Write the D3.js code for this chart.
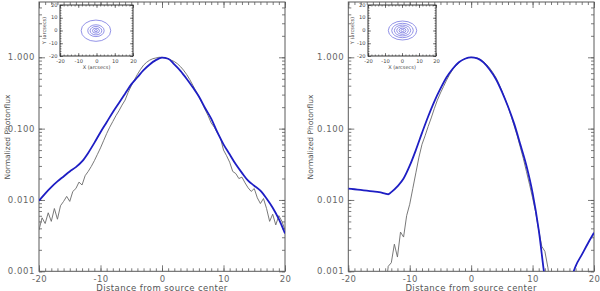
<!DOCTYPE html>
<meta charset="utf-8">
<style>
    body { margin: 0; background: #fff; }
    svg { display: block; font-family: "DejaVu Sans", sans-serif; }
    .lbl { fill: #555; }
</style>
<script src="https://d3js.org/d3.v7.min.js"></script>
<div id="chart"></div>
<script>

    // x positions of the measured (gray) profiles, every half arcsec
    var grayX = d3.range(-20, 20.01, 0.5);

    // left panel, measured profile (log10 of normalized flux)
    var leftDataLog10 = [
        -2.42, -2.25, -2.33, -2.18, -2.30, -2.12, -2.27, -2.08, -2.02, -1.95,
        -2.02, -1.88, -1.84, -1.75, -1.79, -1.66, -1.60, -1.53, -1.45, -1.36,
        -1.27, -1.17, -1.07, -0.98, -0.90, -0.82, -0.75, -0.67, -0.60, -0.49,
        -0.40, -0.32, -0.24, -0.17, -0.11, -0.07, -0.04, -0.02, -0.01, 0.00,
        0.00, -0.01, -0.02, -0.04, -0.06, -0.09, -0.13, -0.18, -0.24, -0.31,
        -0.39, -0.47, -0.55, -0.64, -0.73, -0.82, -0.92, -0.98, -1.06, -1.13,
        -1.30, -1.38, -1.47, -1.60, -1.63, -1.70, -1.68, -1.76, -1.83, -1.88,
        -1.84, -1.97, -2.05, -1.98, -2.12, -2.30, -2.20, -2.35, -2.22, -2.30,
        -2.42
    ];

    // left panel, model profile
    var leftModelX = [-20, -19, -18, -17, -16, -15, -14, -13, -12, -11, -10, -9, -8, -7, -6, -5, -4, -3, -2, -1,
        0, 1, 2, 3, 4, 5, 6, 7, 8, 9, 10, 11, 12, 13, 14, 15, 16, 17, 18, 19, 20];
    var leftModelLog10 = [
        -2.01, -1.91, -1.82, -1.74, -1.67, -1.60, -1.54, -1.46, -1.34, -1.20,
        -1.05, -0.91, -0.77, -0.64, -0.51, -0.38, -0.28, -0.18, -0.10, -0.04,
        -0.005, -0.02, -0.10, -0.19, -0.30, -0.42, -0.55, -0.71, -0.86, -1.05,
        -1.22, -1.36, -1.50, -1.62, -1.73, -1.80, -1.87, -1.98, -2.11, -2.27,
        -2.47
    ];

    // right panel, measured profile (null = below the plotted range)
    var rightDataLog10 = [
        null, null, null, null, null, null, null, null, null, null,
        null, null, -3.30, -2.93, -2.88, -2.62, -2.80, -2.45, -2.52, -2.22,
        -2.06, -1.84, -1.62, -1.40, -1.22, -1.10, -0.97, -0.85, -0.72, -0.60,
        -0.50, -0.41, -0.32, -0.24, -0.17, -0.12, -0.08, -0.04, -0.02, -0.005,
        0.00, -0.003, -0.012, -0.03, -0.06, -0.10, -0.15, -0.21, -0.28, -0.37,
        -0.47, -0.58, -0.69, -0.82, -0.96, -1.10, -1.26, -1.42, -1.60, -1.78,
        -1.97, -2.17, -2.42, -2.65, -2.72, -2.95, -3.30, null, null, null,
        null, null, null, null, null, null, null, null, null, null,
        null
    ];

    // right panel, model profile
    var rightModelX = [-20, -19, -18, -17, -16, -15, -14, -13.5, -13, -12, -11, -10, -9, -8, -7, -6, -5, -4, -3, -2, -1,
        0, 1, 2, 3, 4, 5, 6, 7, 8, 9, 10, 11, 12, 13, 14, 15, 16, 17, 18, 19, 20];
    var rightModelLog10 = [
        -1.84, -1.85, -1.86, -1.87, -1.88, -1.89, -1.91, -1.92, -1.89, -1.81,
        -1.70, -1.52, -1.30, -1.06, -0.83, -0.62, -0.44, -0.28, -0.16, -0.07,
        -0.02, 0.00, -0.015, -0.07, -0.17, -0.30, -0.48, -0.69, -0.93, -1.22,
        -1.52, -1.90, -2.42, -3.10, -3.60, -3.90, -3.70, -3.20, -2.93, -2.77,
        -2.61, -2.46
    ];

    // inset contour rings (radius in arcsec) and centres
    var leftRings = [8.1, 4.5, 3.2, 1.9, 0.8];
    var leftRingCenter = [-0.3, -0.15];
    var leftRingAspect = 1.03;
    var rightRings = [8.35, 6.35, 4.8, 3.4, 2.05, 0.9];
    var rightRingCenter = [0.3, 0.0];
    var rightRingAspect = 0.89;

    var xTicks = [-20, -10, 0, 10, 20];
    var yTicks = [0.001, 0.01, 0.1, 1];
    var insetTicks = [-20, -10, 0, 10, 20];

    var svg = d3.select("#chart").append("svg")
        .attr("width", 600)
        .attr("height", 291);

    var ink = "#5a5a5a";

    function drawPanel(p) {
        var x = d3.scaleLinear().domain([-20, 20]).range([p.x0, p.x1]);
        var y = d3.scaleLog().domain([0.001, 5.96]).range([271.3, 2]);
        var g = svg.append("g");

        g.append("clipPath").attr("id", p.id)
            .append("rect")
            .attr("x", p.x0).attr("y", 2)
            .attr("width", p.x1 - p.x0).attr("height", 269.3);

        // minor ticks
        var minorX = d3.range(-20, 21, 1);
        var minorY = [];
        [0.001, 0.01, 0.1, 1].forEach(function (d) {
            for (var k = 1; k < 10; k++) if (d * k <= 5.9) minorY.push(d * k);
        });
        g.append("g").attr("transform", "translate(0,271.3)")
            .call(d3.axisBottom(x).tickValues(minorX).tickSize(-3).tickFormat(""));
        g.append("g").attr("transform", "translate(0,2)")
            .call(d3.axisTop(x).tickValues(minorX).tickSize(-3).tickFormat(""));
        g.append("g").attr("transform", "translate(" + p.x0 + ",0)")
            .call(d3.axisLeft(y).tickValues(minorY).tickSize(-3).tickFormat(""));
        g.append("g").attr("transform", "translate(" + p.x1 + ",0)")
            .call(d3.axisRight(y).tickValues(minorY).tickSize(-3).tickFormat(""));

        // major ticks with labels
        g.append("g").attr("class", "xax").attr("transform", "translate(0,271.3)")
            .call(d3.axisBottom(x).tickValues(xTicks).tickSize(-6).tickPadding(5)
                .tickFormat(function (d) { return d; }));
        g.append("g").attr("transform", "translate(0,2)")
            .call(d3.axisTop(x).tickValues(xTicks).tickSize(-6).tickFormat(""));
        g.append("g").attr("class", "yax").attr("transform", "translate(" + p.x0 + ",0)")
            .call(d3.axisLeft(y).tickValues(yTicks).tickSize(-6).tickPadding(4)
                .tickFormat(d3.format(".3f")));
        g.append("g").attr("transform", "translate(" + p.x1 + ",0)")
            .call(d3.axisRight(y).tickValues(yTicks).tickSize(-6).tickFormat(""));

        g.selectAll(".domain").remove();
        g.selectAll(".tick line").attr("stroke", ink).attr("stroke-width", 0.8);
        g.selectAll(".tick text").attr("fill", "#666").attr("font-size", 8.5)
            .attr("font-family", "DejaVu Sans, sans-serif");
        g.selectAll(".yax .tick text").attr("letter-spacing", 0.6).attr("dy", "0.3em");
        g.selectAll(".xax .tick text").attr("letter-spacing", 0.3).attr("dy", "0.62em");

        g.append("rect")
            .attr("x", p.x0).attr("y", 2)
            .attr("width", p.x1 - p.x0).attr("height", 269.3)
            .attr("fill", "none").attr("stroke", ink).attr("stroke-width", 1);

        var plot = g.append("g").attr("clip-path", "url(#" + p.id + ")");

        var grayPts = grayX.map(function (d, i) { return [d, p.data[i]]; });
        plot.append("path")
            .datum(grayPts)
            .attr("fill", "none")
            .attr("stroke", "#6a6a6a")
            .attr("stroke-width", 0.9)
            .attr("d", d3.line()
                .defined(function (d) { return d[1] !== null; })
                .x(function (d) { return x(d[0]); })
                .y(function (d) { return y(Math.pow(10, d[1])); }));

        var modelPts = p.modelX.map(function (d, i) { return [d, p.model[i]]; });
        plot.append("path")
            .datum(modelPts)
            .attr("fill", "none")
            .attr("stroke", "#1e1ec4")
            .attr("stroke-width", 1.8)
            .attr("d", d3.line()
                .curve(d3.curveMonotoneX)
                .x(function (d) { return x(d[0]); })
                .y(function (d) { return y(Math.pow(10, d[1])); }));

        // axis titles
        g.append("text").attr("class", "lbl")
            .attr("x", (p.x0 + p.x1) / 2).attr("y", 290.5)
            .attr("text-anchor", "middle").attr("font-size", 8.5)
            .attr("letter-spacing", 0.4)
            .text("Distance from source center");
        g.append("text").attr("class", "lbl")
            .attr("transform", "translate(" + p.ylabX + ",137) rotate(-90)")
            .attr("text-anchor", "middle").attr("font-size", 7.5)
            .attr("dy", "0.35em")
            .text("Normalized Photonflux");

        drawInset(p.inset);
    }

    function drawInset(s) {
        var ix = d3.scaleLinear().domain([-20, 20]).range([s.x0, s.x1]);
        var iy = d3.scaleLinear().domain([-20, 20]).range([s.y1, s.y0]);
        var g = svg.append("g");

        g.append("rect")
            .attr("x", s.x0).attr("y", s.y0)
            .attr("width", s.x1 - s.x0).attr("height", s.y1 - s.y0)
            .attr("fill", "#fff").attr("stroke", "#333").attr("stroke-width", 1);

        var minor = d3.range(-20, 21, 2);
        [[d3.axisBottom(ix), "translate(0," + s.y1 + ")"],
         [d3.axisTop(ix), "translate(0," + s.y0 + ")"],
         [d3.axisLeft(iy), "translate(" + s.x0 + ",0)"],
         [d3.axisRight(iy), "translate(" + s.x1 + ",0)"]].forEach(function (a) {
            g.append("g").attr("transform", a[1])
                .call(a[0].tickValues(minor).tickSize(-1.5).tickFormat(""));
        });

        g.append("g").attr("class", "ixa").attr("transform", "translate(0," + s.y1 + ")")
            .call(d3.axisBottom(ix).tickValues(insetTicks).tickSize(-3).tickPadding(3)
                .tickFormat(function (d) { return d; }));
        g.append("g").attr("transform", "translate(0," + s.y0 + ")")
            .call(d3.axisTop(ix).tickValues(insetTicks).tickSize(-3).tickFormat(""));
        g.append("g").attr("class", "iya").attr("transform", "translate(" + s.x0 + ",0)")
            .call(d3.axisLeft(iy).tickValues(insetTicks).tickSize(-3).tickPadding(2.5)
                .tickFormat(function (d) { return d; }));
        g.append("g").attr("transform", "translate(" + s.x1 + ",0)")
            .call(d3.axisRight(iy).tickValues(insetTicks).tickSize(-3).tickFormat(""));

        g.selectAll(".domain").remove();
        g.selectAll(".tick line").attr("stroke", "#333").attr("stroke-width", 0.6);
        g.selectAll(".tick text").attr("fill", "#444").attr("font-size", 5.2)
            .attr("font-family", "DejaVu Sans, sans-serif");
        g.selectAll(".iya .tick text").attr("dy", "0.2em");

        var kx = ix(1) - ix(0), ky = iy(0) - iy(1);
        g.selectAll("ellipse").data(s.rings).enter()
            .append("ellipse")
            .attr("cx", ix(s.center[0]))
            .attr("cy", iy(s.center[1]))
            .attr("rx", function (d) { return d * kx; })
            .attr("ry", function (d) { return d * s.aspect * ky; })
            .attr("fill", "none")
            .attr("stroke", "#6464dc")
            .attr("stroke-width", 0.7);

        g.append("text")
            .attr("x", (s.x0 + s.x1) / 2).attr("y", s.y1 + 12.5)
            .attr("text-anchor", "middle").attr("font-size", 5)
            .attr("fill", "#444")
            .text("X (arcsecs)");
        g.append("text")
            .attr("transform", "translate(" + (s.x0 - 14) + "," + ((s.y0 + s.y1) / 2) + ") rotate(-90)")
            .attr("text-anchor", "middle").attr("font-size", 5)
            .attr("fill", "#444")
            .text("Y (arcsecs)");
    }

    drawPanel({
        id: "clipL", x0: 39, x1: 285, ylabX: 7,
        data: leftDataLog10, modelX: leftModelX, model: leftModelLog10,
        inset: {x0: 60, x1: 133, y0: 5, y1: 56, rings: leftRings, center: leftRingCenter, aspect: leftRingAspect}
    });
    drawPanel({
        id: "clipR", x0: 348.3, x1: 594, ylabX: 310,
        data: rightDataLog10, modelX: rightModelX, model: rightModelLog10,
        inset: {x0: 368, x1: 436, y0: 5, y1: 56, rings: rightRings, center: rightRingCenter, aspect: rightRingAspect}
    });

</script>
